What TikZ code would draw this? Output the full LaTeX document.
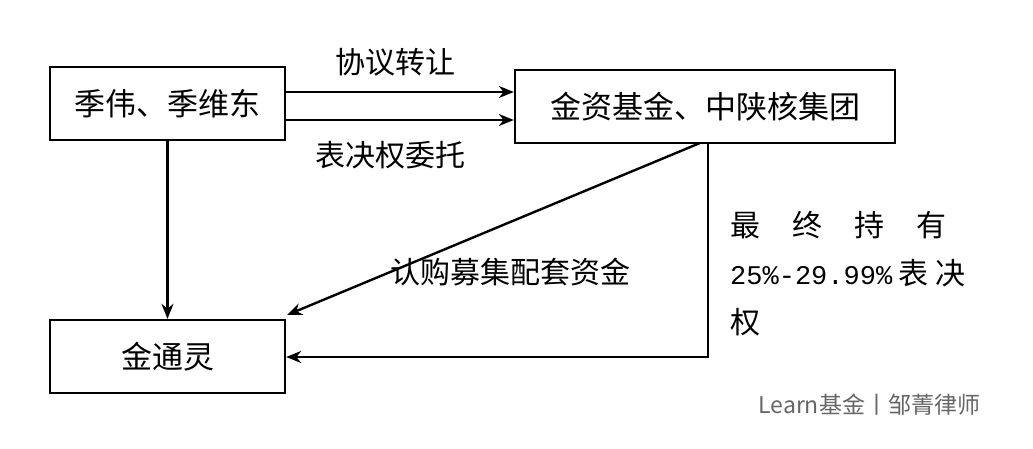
\documentclass[tikz,border=0pt]{standalone}
\usetikzlibrary{arrows.meta}
\usepackage{fontspec}
\newfontfamily\cjk{Noto Sans CJK SC}
\setmainfont{Liberation Serif}
\begin{document}
\begin{tikzpicture}[x=1pt,y=-1pt,
  box/.style={draw,line width=2.4pt,minimum height=73pt,inner sep=0pt,font=\cjk\fontsize{31}{34}\selectfont},
  lab/.style={font=\cjk\fontsize{30}{34}\selectfont,inner sep=0pt},
  arr/.style={line width=2.4pt,-{Stealth[length=15pt,width=12pt]}}]
\useasboundingbox[fill=white] (0,0) rectangle (1033,449);
\node[box,minimum width=235pt] (a) at (167.5,103.5) {季伟、季维东};
\node[box,minimum width=380pt] (b) at (705,106.5) {金资基金、中陕核集团};
\node[box,minimum width=235pt] (c) at (167.5,356.5) {金通灵};
\draw[arr] (a.east|-0,92) -- (b.west|-0,92);
\draw[arr] (a.east|-0,120) -- (b.west|-0,120);
\node[lab] (t1) at (395,62) {协议转让};
\node[lab] (t2) at (390,155) {表决权委托};
\draw[arr] (a.south) -- (c.north);
\draw[arr] (700,143) -- (287,315);
\node[lab] (t3) at (510,272) {认购募集配套资金};
\coordinate (k) at (708,357);
\draw[arr] (708,143) -- (k) -- (c.east|-k);
\node[lab,anchor=west] (t4) at (730,225) {最\hspace{32pt}终\hspace{32pt}持\hspace{32pt}有};
\node[lab,anchor=west] (t5) at (730,273) {{\fontspec{Liberation Mono}\fontsize{27}{30}\selectfont 25\%-29.99\%} 表 决};
\node[lab,anchor=west] (t6) at (730,322) {权};
\node[font=\cjk\fontsize{23}{26}\selectfont,text=black!60,anchor=west] (w) at (755,405) {Learn基金丨邹菁律师};
\end{tikzpicture}
\end{document}
